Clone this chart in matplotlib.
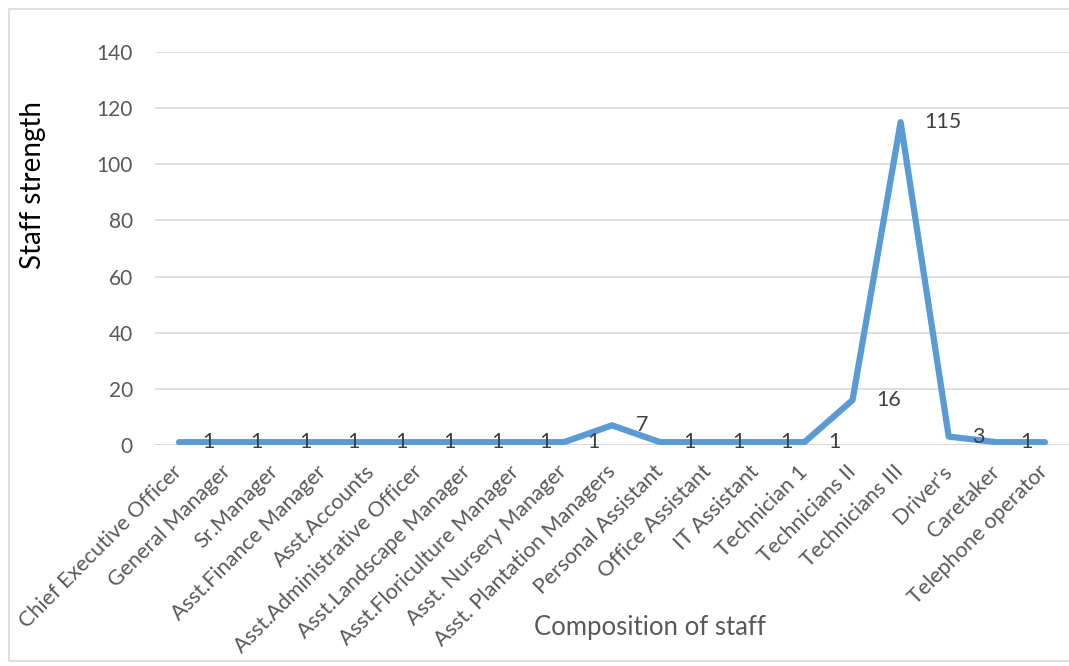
import matplotlib.pyplot as plt
from matplotlib.patches import Rectangle

# staff composition data
positions = [
    'Chief Executive Officer', 'General Manager', 'Sr.Manager', 'Asst.Finance Manager',
    'Asst.Accounts', 'Asst.Administrative Officer', 'Asst.Landscape Manager',
    'Asst.Floriculture Manager', 'Asst. Nursery Manager', 'Asst. Plantation Managers',
    'Personal Assistant', 'Office Assistant', 'IT Assistant', 'Technician 1',
    'Technicians II', 'Technicians III', "Driver's", 'Caretaker', 'Telephone operator'
]
staff = [1, 1, 1, 1, 1, 1, 1, 1, 1, 7, 1, 1, 1, 1, 16, 115, 3, 1, 1]
y_ticks = [0, 20, 40, 60, 80, 100, 120, 140]

plt.rcParams['font.family'] = ['Lato', 'DejaVu Sans']

fig = plt.figure(figsize=(10.69, 6.66), dpi=100)
ax = fig.add_axes([155 / 1069, 1 - 445 / 666, 1 - 155 / 1069, 393 / 666])

# outer chart border like excel
fig.patches.append(Rectangle((9 / 1069, 5 / 666), 1.2, 652 / 666, transform=fig.transFigure,
                             fill=False, edgecolor='#D9D9D9', linewidth=1.2))

x = list(range(len(positions)))
ax.plot(x, staff, color='#5B9BD5', linewidth=4.5, solid_capstyle='round', solid_joinstyle='round',
        zorder=3)

for xi, v in zip(x, staff):
    ax.annotate(str(v), (xi, v), xytext=(17, 0), textcoords='offset points',
                ha='left', va='center', fontsize=15.5, color='#404040', zorder=4,
                annotation_clip=False)

ax.set_xlim(-0.5, len(positions) - 0.5)
ax.set_ylim(0, 140)
ax.set_yticks(y_ticks)
ax.set_xticks(x)
ax.set_xticklabels(positions, rotation=45, ha='right', va='center', rotation_mode='anchor',
                   fontsize=15.5, color='#595959')
ax.tick_params(axis='y', labelsize=15, colors='#595959', length=0, pad=16)
ax.tick_params(axis='x', length=0, pad=17)
ax.grid(axis='y', color='#D9D9D9', linewidth=1.2)
ax.set_axisbelow(True)
for s in ax.spines.values():
    s.set_visible(False)
ax.axhline(0, color='#D9D9D9', linewidth=1.2, zorder=1)

fig.text(33 / 1069, 1 - 185 / 666, 'Staff strength', rotation=90, ha='center', va='center',
         fontsize=20, color='black')
fig.text(650 / 1069, 1 - 628 / 666, 'Composition of staff', ha='center', va='center',
         fontsize=18.5, color='#595959')

fig.savefig('out.png', dpi=100)
